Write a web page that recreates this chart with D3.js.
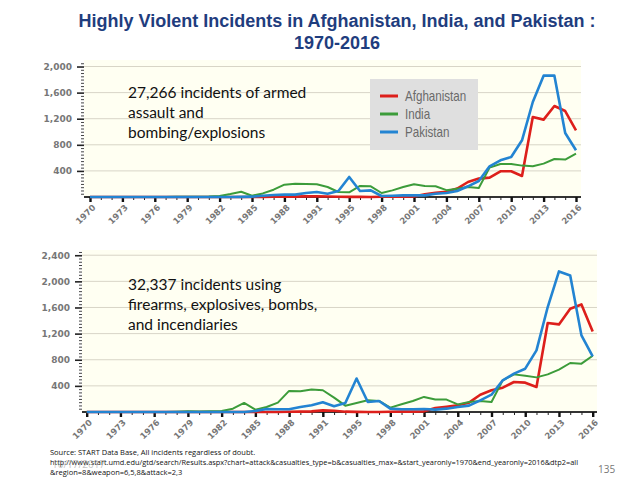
<!DOCTYPE html>
<html>
<head>
<meta charset="utf-8">
<script src="https://cdn.jsdelivr.net/npm/d3@7"></script>
<style>
  body { margin: 0; background: #fff; }
  svg { display: block; }
</style>
</head>
<body>
<div id="chart"></div>
<script>
// GTD has no 1993 data, so the year axis skips it
const years = ["1970","1971","1972","1973","1974","1975","1976","1977","1978","1979",
  "1980","1981","1982","1983","1984","1985","1986","1987","1988","1989",
  "1990","1991","1992","1994","1995","1996","1997","1998","1999","2000",
  "2001","2002","2003","2004","2005","2006","2007","2008","2009","2010",
  "2011","2012","2013","2014","2015","2016"];
const tickYears = ["1970","1973","1976","1979","1982","1985","1988","1991","1995",
  "1998","2001","2004","2007","2010","2013","2016"];
const countries = ["Afghanistan", "India", "Pakistan"];
const colors = ["#dd1f1b", "#3c9c3a", "#2384d2"];

// armed assault + bombing/explosions
const afgArmed = [0,0,0,0,0,0,0,0,0,0, 0,0,0,0,0,0,2,3,5,5,
  10,12,8,3,2,2,0,3,5,5, 8,40,65,80,130,230,282,297,394,394,
  322,1226,1186,1395,1318,1022];
const indArmed = [0,0,0,0,0,0,0,0,3,5, 5,8,15,45,80,20,55,112,189,204,
  199,194,153,77,72,169,164,61,102,153, 194,169,164,105,128,153,138,450,506,506,
  481,470,512,583,573,665];
const pakArmed = [0,0,0,0,0,0,0,0,0,0, 0,0,0,0,2,5,20,30,36,36,
  61,77,51,92,307,92,102,15,20,25, 25,25,51,61,92,164,245,470,562,613,
  869,1456,1860,1860,981,716];

// firearms, explosives, bombs, incendiaries
const afgWeapon = [0,0,0,0,0,0,0,0,0,0, 0,0,0,0,0,0,0,0,3,5,
  10,25,20,5,2,0,0,3,5,5, 10,60,80,102,143,265,332,372,459,449,
  383,1362,1341,1581,1647,1234];
const indWeapon = [0,0,0,0,0,0,0,0,5,10, 8,10,15,51,139,36,77,144,323,318,
  344,333,221,97,139,180,169,67,118,169, 231,190,190,117,153,168,153,485,576,556,
  530,576,648,750,740,862];
const pakWeapon = [0,0,0,0,0,0,0,0,0,0, 0,0,0,0,0,15,46,41,41,77,
  103,149,87,139,513,154,169,51,41,41, 46,36,51,77,97,179,265,485,587,663,
  944,1607,2152,2091,1173,852];

const W = 640, H = 490;
const svg = d3.select("#chart").append("svg")
  .attr("width", W).attr("height", H)
  .style("font-family", "'Liberation Sans', Arial, sans-serif");

// title
const title = svg.append("text")
  .attr("x", 337).attr("text-anchor", "middle")
  .attr("fill", "#1f3d7e")
  .style("font-size", "18px").style("font-weight", "bold");
title.append("tspan").attr("x", 337).attr("y", 27)
  .text("Highly Violent Incidents in Afghanistan, India, and Pakistan :");
title.append("tspan").attr("x", 337).attr("y", 49).text("1970-2016");

function panel(opts) {
  const { left, right, top, bottom, xFirst, xLast, yMax, yTicks, series, note, noteY, legend } = opts;
  const g = svg.append("g");

  const x = d3.scalePoint().domain(years).range([xFirst, xLast]);
  const y = d3.scaleLinear().domain([0, yMax]).range([bottom, top]);

  g.append("rect")
    .attr("x", left).attr("y", top)
    .attr("width", right - left).attr("height", bottom - top)
    .attr("fill", "#fffff2");

  g.append("g").selectAll("line")
    .data(yTicks)
    .join("line")
    .attr("x1", left).attr("x2", right)
    .attr("y1", (d) => y(d)).attr("y2", (d) => y(d))
    .attr("stroke", "#d8d5c7").attr("stroke-width", 1);

  // y axis: minor + major ticks, no domain line
  const minor = d3.range(50, yMax, 50).filter((d) => d % 400 !== 0);
  const yMinor = g.append("g")
    .attr("transform", `translate(${left},0)`)
    .call(d3.axisLeft(y).tickValues(minor).tickSize(3).tickFormat(""));
  yMinor.select(".domain").remove();
  yMinor.selectAll("line").attr("stroke", "#444");

  const yAxis = g.append("g")
    .attr("transform", `translate(${left},0)`)
    .call(d3.axisLeft(y).tickValues(yTicks).tickSize(7).tickPadding(5)
      .tickFormat(d3.format(",")));
  yAxis.select(".domain").remove();
  yAxis.selectAll("line").attr("stroke", "#222").attr("stroke-width", 1.6);
  yAxis.selectAll("text")
    .attr("fill", "#777")
    .style("font-family", "'DejaVu Sans', Verdana, sans-serif")
    .style("font-size", "9px").style("font-weight", "bold");

  // x axis
  const xMinor = g.append("g")
    .attr("transform", `translate(0,${bottom})`)
    .call(d3.axisBottom(x).tickSize(3).tickFormat(""));
  xMinor.select(".domain")
    .attr("d", `M${left},0H${right}`)
    .attr("stroke", "#333").attr("stroke-width", 2);
  xMinor.selectAll("line").attr("stroke", "#222");

  const xAxis = g.append("g")
    .attr("transform", `translate(0,${bottom})`)
    .call(d3.axisBottom(x).tickValues(tickYears).tickSize(5).tickFormat(""));
  xAxis.select(".domain").remove();
  xAxis.selectAll("line").attr("stroke", "#111").attr("stroke-width", 2.4);

  g.append("g").selectAll("text")
    .data(tickYears)
    .join("text")
    .attr("transform", (d) => `translate(${x(d) + 4},${bottom + 9}) rotate(-45)`)
    .attr("text-anchor", "end")
    .attr("dy", "0.35em")
    .attr("fill", "#777")
    .style("font-family", "'DejaVu Sans', Verdana, sans-serif")
    .style("font-size", "8.5px").style("font-weight", "bold")
    .text((d) => d);

  const line = d3.line()
    .x((d, i) => x(years[i]))
    .y((d) => y(d));

  g.append("g").selectAll("path")
    .data(series)
    .join("path")
    .attr("d", (d) => line(d))
    .attr("fill", "none")
    .attr("stroke", (d, i) => colors[i])
    .attr("stroke-width", (d, i) => (i === 1 ? 2 : 2.6))
    .attr("stroke-linejoin", "round");

  const nt = g.append("text")
    .attr("fill", "#111")
    .style("font-family", "Lato, 'Open Sans', sans-serif")
    .style("font-size", "15.5px");
  note.forEach((t, i) => {
    nt.append("tspan").attr("x", 128).attr("y", noteY + i * 20).text(t);
  });

  if (legend) {
    const lg = g.append("g").attr("transform", "translate(370,79)");
    lg.append("rect").attr("width", 108).attr("height", 71).attr("fill", "#dfdfdf");
    const item = lg.selectAll("g")
      .data(countries)
      .join("g")
      .attr("transform", (d, i) => `translate(0,${17 + i * 18})`);
    item.append("line")
      .attr("x1", 10).attr("x2", 28)
      .attr("stroke", (d, i) => colors[i]).attr("stroke-width", 3);
    // narrow look: squeeze a regular sans horizontally
    item.append("text")
      .attr("transform", "translate(35,0) scale(0.8,1)")
      .attr("dy", "0.35em")
      .attr("fill", "#6a6a6a")
      .style("font-family", "'Liberation Sans', Arial, sans-serif")
      .style("font-size", "14.5px")
      .text((d) => d);
  }
}

panel({
  left: 84, right: 581, top: 60, bottom: 197,
  xFirst: 90, xLast: 576, yMax: 2100,
  yTicks: [400, 800, 1200, 1600, 2000],
  series: [afgArmed, indArmed, pakArmed],
  note: ["27,266 incidents of armed", "assault and", "bombing/explosions"],
  noteY: 98, legend: true
});

panel({
  left: 82, right: 597, top: 250, bottom: 412,
  xFirst: 86.7, xLast: 592.7, yMax: 2480,
  yTicks: [400, 800, 1200, 1600, 2000, 2400],
  series: [afgWeapon, indWeapon, pakWeapon],
  note: ["32,337 incidents using", "firearms, explosives, bombs,", "and incendiaries"],
  noteY: 290, legend: false
});

// footer
const foot = svg.append("g")
  .style("font-family", "'Open Sans', 'Liberation Sans', sans-serif")
  .style("font-size", "7.5px").attr("fill", "#111");
foot.append("text").attr("x", 50).attr("y", 455)
  .text("Source:  START Data Base,  All incidents regardless of doubt.");
foot.append("text").attr("x", 50).attr("y", 465)
  .attr("textLength", 528).attr("lengthAdjust", "spacingAndGlyphs")
  .text("http://www.start.umd.edu/gtd/search/Results.aspx?chart=attack&casualties_type=b&casualties_max=&start_yearonly=1970&end_yearonly=2016&dtp2=all");
foot.append("text").attr("x", 50).attr("y", 475)
  .text("&region=8&weapon=6,5,8&attack=2,3");
svg.append("text").attr("x", 52).attr("y", 468)
  .attr("fill", "#999").attr("fill-opacity", 0.6)
  .style("font-family", "'Open Sans', sans-serif").style("font-size", "10px")
  .text("10/17/2017");
svg.append("text").attr("x", 598).attr("y", 473)
  .attr("fill", "#777")
  .style("font-family", "'Open Sans', sans-serif").style("font-size", "10px")
  .text("135");
</script>
</body>
</html>
